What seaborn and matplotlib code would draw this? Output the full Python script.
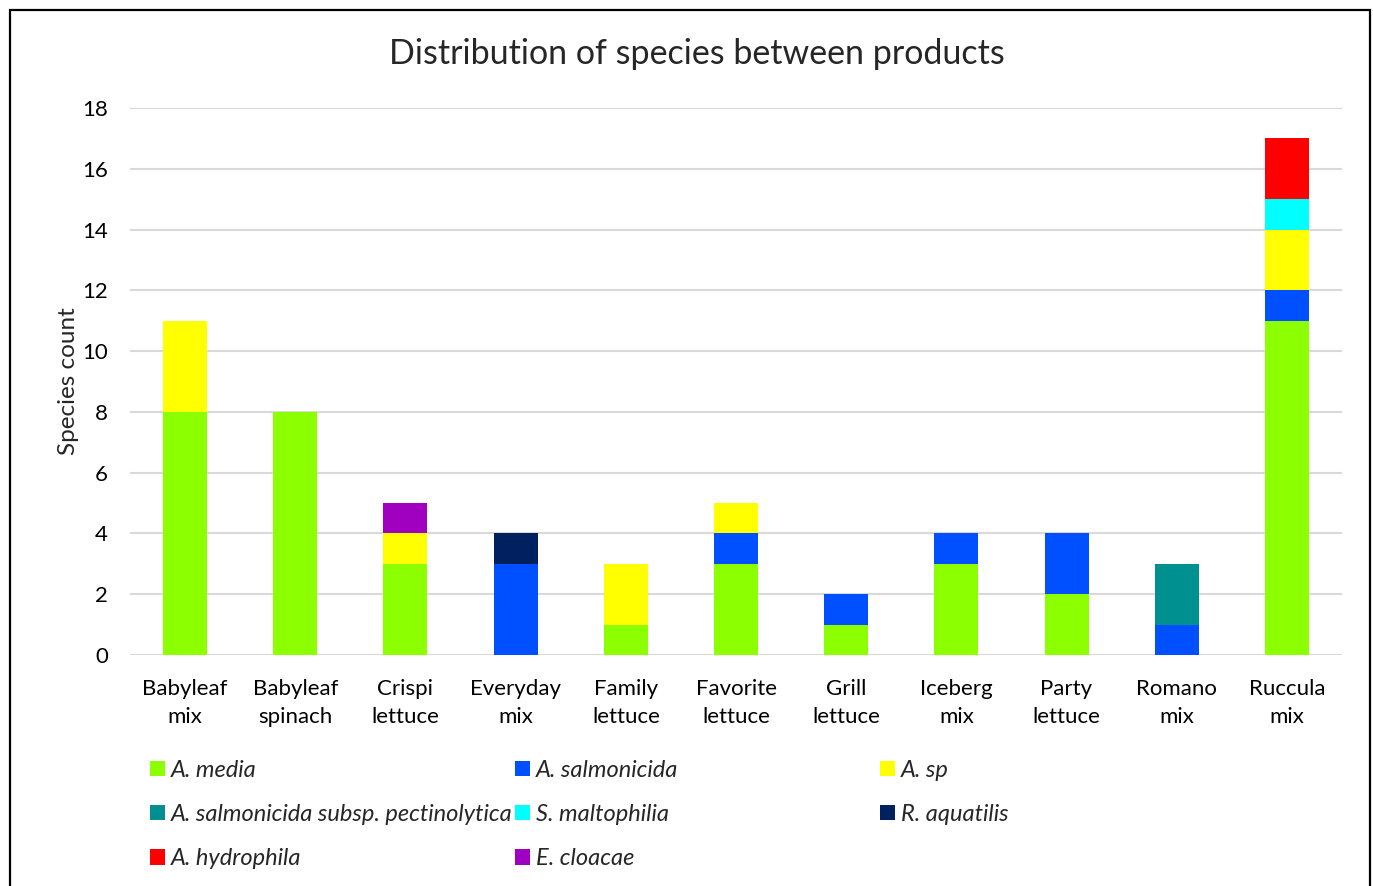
import pandas as pd
import matplotlib.pyplot as plt
import seaborn as sns
from matplotlib.patches import Patch, Rectangle

# products on the x axis
products = ["Babyleaf\nmix", "Babyleaf\nspinach", "Crispi\nlettuce", "Everyday\nmix",
            "Family\nlettuce", "Favorite\nlettuce", "Grill\nlettuce", "Iceberg\nmix",
            "Party\nlettuce", "Romano\nmix", "Ruccula\nmix"]

# species counts per product (stacked bottom -> top in this order)
a_media = [8, 8, 3, 0, 1, 3, 1, 3, 2, 0, 11]
a_salmonicida = [0, 0, 0, 3, 0, 1, 1, 1, 2, 1, 1]
a_sp = [3, 0, 1, 0, 2, 1, 0, 0, 0, 0, 2]
a_pectinolytica = [0, 0, 0, 0, 0, 0, 0, 0, 0, 2, 0]
s_maltophilia = [0, 0, 0, 0, 0, 0, 0, 0, 0, 0, 1]
r_aquatilis = [0, 0, 0, 1, 0, 0, 0, 0, 0, 0, 0]
a_hydrophila = [0, 0, 0, 0, 0, 0, 0, 0, 0, 0, 2]
e_cloacae = [0, 0, 1, 0, 0, 0, 0, 0, 0, 0, 0]

species = ["A. media", "A. salmonicida", "A. sp", "A. salmonicida subsp. pectinolytica",
           "S. maltophilia", "R. aquatilis", "A. hydrophila", "E. cloacae"]
counts = [a_media, a_salmonicida, a_sp, a_pectinolytica,
          s_maltophilia, r_aquatilis, a_hydrophila, e_cloacae]
colors = ["#8CFF00", "#0050FF", "#FFFF00", "#009090",
          "#00FFFF", "#002060", "#FF0000", "#A000C0"]

rows = []
for sp_name, vals in zip(species, counts):
    for prod, v in zip(products, vals):
        rows.append({"product": prod, "species": sp_name, "count": v})
df = pd.DataFrame(rows)
df["product"] = pd.Categorical(df["product"], categories=products, ordered=True)

sns.set_style("white")
plt.rcParams['font.family'] = ['Lato', 'DejaVu Sans']

fig = plt.figure(figsize=(13.73, 8.86), dpi=100)
ax = fig.add_axes([130 / 1373, 1 - 655 / 886, 1212 / 1373, 547 / 886])

palette = dict(zip(species, colors))
# seaborn stacks the last hue level at the bottom
sns.histplot(data=df, x="product", hue="species", weights="count",
             hue_order=species[::-1], multiple="stack", discrete=True,
             shrink=0.4, palette=palette, alpha=1, linewidth=0,
             legend=False, ax=ax)

ax.set_xlim(-0.5, len(products) - 0.5)
ax.set_ylim(0, 18)
ax.set_yticks(range(0, 19, 2))
ax.yaxis.grid(True, color="#d9d9d9", linewidth=1.5)
ax.set_axisbelow(True)
for s in ax.spines.values():
    s.set_visible(False)
ax.tick_params(axis="both", length=0, labelsize=16, colors="#000000")
ax.tick_params(axis="y", pad=16)
ax.tick_params(axis="x", pad=17)
for lbl in ax.get_xticklabels():
    lbl.set_linespacing(1.55)
ax.set_xlabel("")
ax.set_ylabel("Species count", fontsize=17.5, labelpad=2)

fig.text(0.5 + 10 / 1373, 1 - 54 / 886, "Distribution of species between products",
         ha="center", va="center", fontsize=24.5)

# legend laid out in three columns, read row by row
col_x = [150 / 1373, 515 / 1373, 880 / 1373]
for c in range(3):
    idx = list(range(c, len(species), 3))
    handles = [Patch(facecolor=colors[i], edgecolor="none") for i in idx]
    labels = [species[i] for i in idx]
    fig.legend(handles, labels, loc="upper left",
               bbox_to_anchor=(col_x[c], 1 - 760 / 886), frameon=False,
               prop={"style": "italic", "size": 17}, handlelength=0.62,
               handleheight=0.62, handletextpad=0.25, labelspacing=0.98,
               borderaxespad=0, borderpad=0)

# outer frame
fig.patches.append(Rectangle((10 / 1373, -0.05), 1360 / 1373, 1.05 - 10 / 886,
                             transform=fig.transFigure, fill=False,
                             edgecolor="black", linewidth=1.6))

fig.savefig("out.png", dpi=100)
